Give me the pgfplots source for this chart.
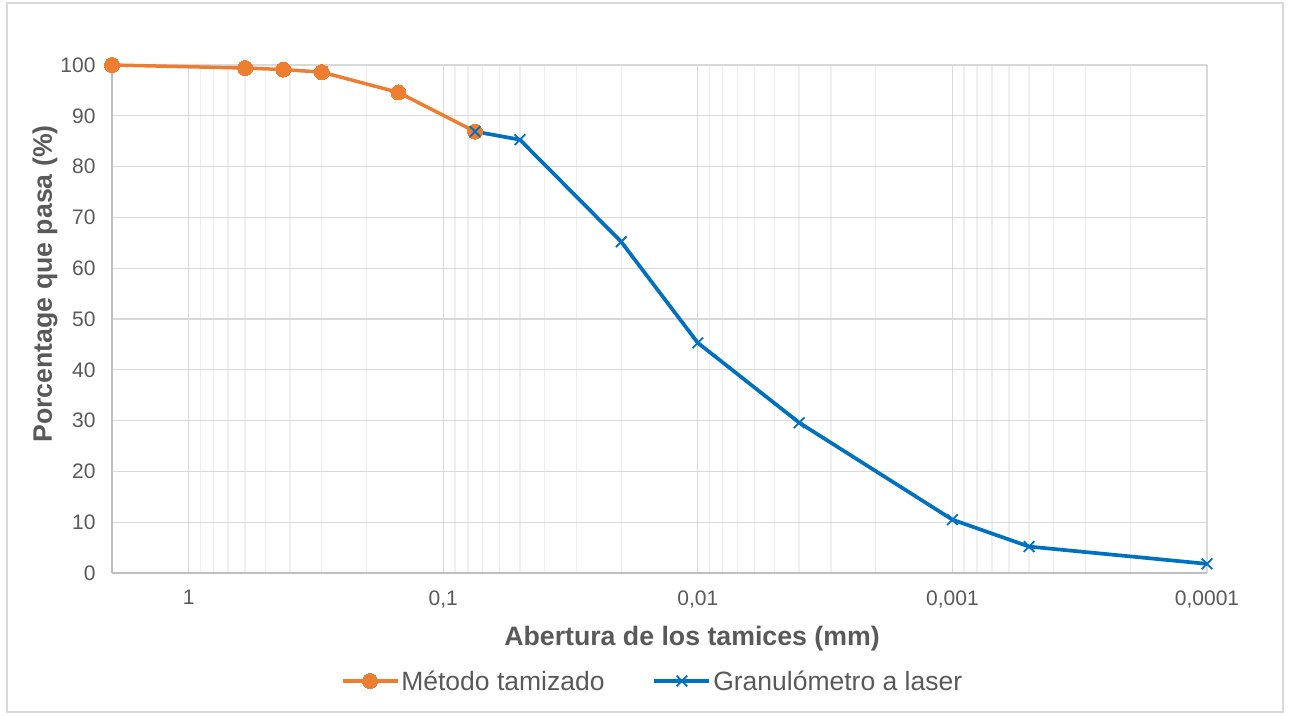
\documentclass[border=0pt]{standalone}
\usepackage{pgfplots}
\pgfplotsset{compat=1.18}
\usepackage{fontspec}
\setmainfont{Liberation Sans}
\definecolor{tx}{HTML}{595959}
\definecolor{orn}{HTML}{ED7D31}
\definecolor{blu}{HTML}{0070C0}
\definecolor{gmaj}{HTML}{D9D9D9}
\definecolor{gmin}{HTML}{EFEFEF}
\definecolor{gax}{HTML}{BFBFBF}
\begin{document}
\begin{tikzpicture}[x=1pt,y=1pt]
\path[use as bounding box] (0,0) rectangle (1290,715);
\draw[gmaj, line width=1.2pt] (7,3) rectangle (1283,712);
\begin{axis}[
  at={(112pt,142pt)}, anchor=south west,
  width=1095pt, height=508pt, scale only axis,
  xmode=log, x dir=reverse,
  xmin=0.0001, xmax=2, ymin=0, ymax=100,
  xtick={1,0.1,0.01,0.001,0.0001},
  xticklabels={1,{0,1},{0,01},{0,001},{0,0001}},
  minor xtick={2,0.9,0.8,0.7,0.6,0.5,0.4,0.3,0.2,
    0.09,0.08,0.07,0.06,0.05,0.04,0.03,0.02,
    0.009,0.008,0.007,0.006,0.005,0.004,0.003,0.002,
    0.0009,0.0008,0.0007,0.0006,0.0005,0.0004,0.0003,0.0002},
  ytick={0,10,...,100},
  xmajorgrids, xminorgrids, ymajorgrids,
  major grid style={gmaj, line width=1.3pt},
  minor grid style={gmin, line width=1.3pt},
  axis x line*=bottom, axis y line*=left,
  axis line style={draw=gax, line width=1.3pt, -},
  major tick length=0pt, minor tick length=0pt,
  /pgf/number format/assume math mode=true,
  ticklabel style={font=\fontsize{21}{25}\selectfont, text=tx},
  xticklabel style={yshift=-14pt},
  yticklabel style={xshift=-13pt},
  xlabel={Abertura de los tamices (mm)},
  ylabel={Porcentage que pasa (\%)},
  label style={font=\fontsize{26.7}{30}\selectfont\bfseries, text=tx},
  xlabel style={at={(axis description cs:0.5297,-0.13)}, anchor=center},
  ylabel style={at={(axis description cs:-0.0612,0.569)}, anchor=center},
  clip=false,
  legend columns=2,
  legend style={at={(axis description cs:0.4936,-0.2126)}, anchor=center,
    draw=none, fill=none, font=\fontsize{26.5}{30}\selectfont, text=tx,
    /tikz/every even column/.append style={column sep=46pt},
    inner sep=0pt},
  legend image code/.code={\draw[mark repeat=2,mark phase=2] plot coordinates {(0pt,0pt) (27.5pt,0pt) (55pt,0pt)};},
]
\addplot[orn, line width=3.5pt, mark=*, mark size=7.5pt, mark options={fill=orn, draw=orn, line width=0pt}]
  coordinates {(2,100) (0.6,99.4) (0.425,99.1) (0.3,98.6) (0.15,94.6) (0.075,86.9)};
\addlegendentry{Método tamizado}
\addplot[blu, line width=3.7pt, mark=x, mark size=7.5pt, mark options={line width=1.8pt}]
  coordinates {(0.075,86.9) (0.05,85.3) (0.02,65.2) (0.01,45.3) (0.004,29.6) (0.001,10.5) (0.0005,5.2) (0.0001,1.8)};
\addlegendentry{Granulómetro a laser}
\end{axis}
\end{tikzpicture}
\end{document}
